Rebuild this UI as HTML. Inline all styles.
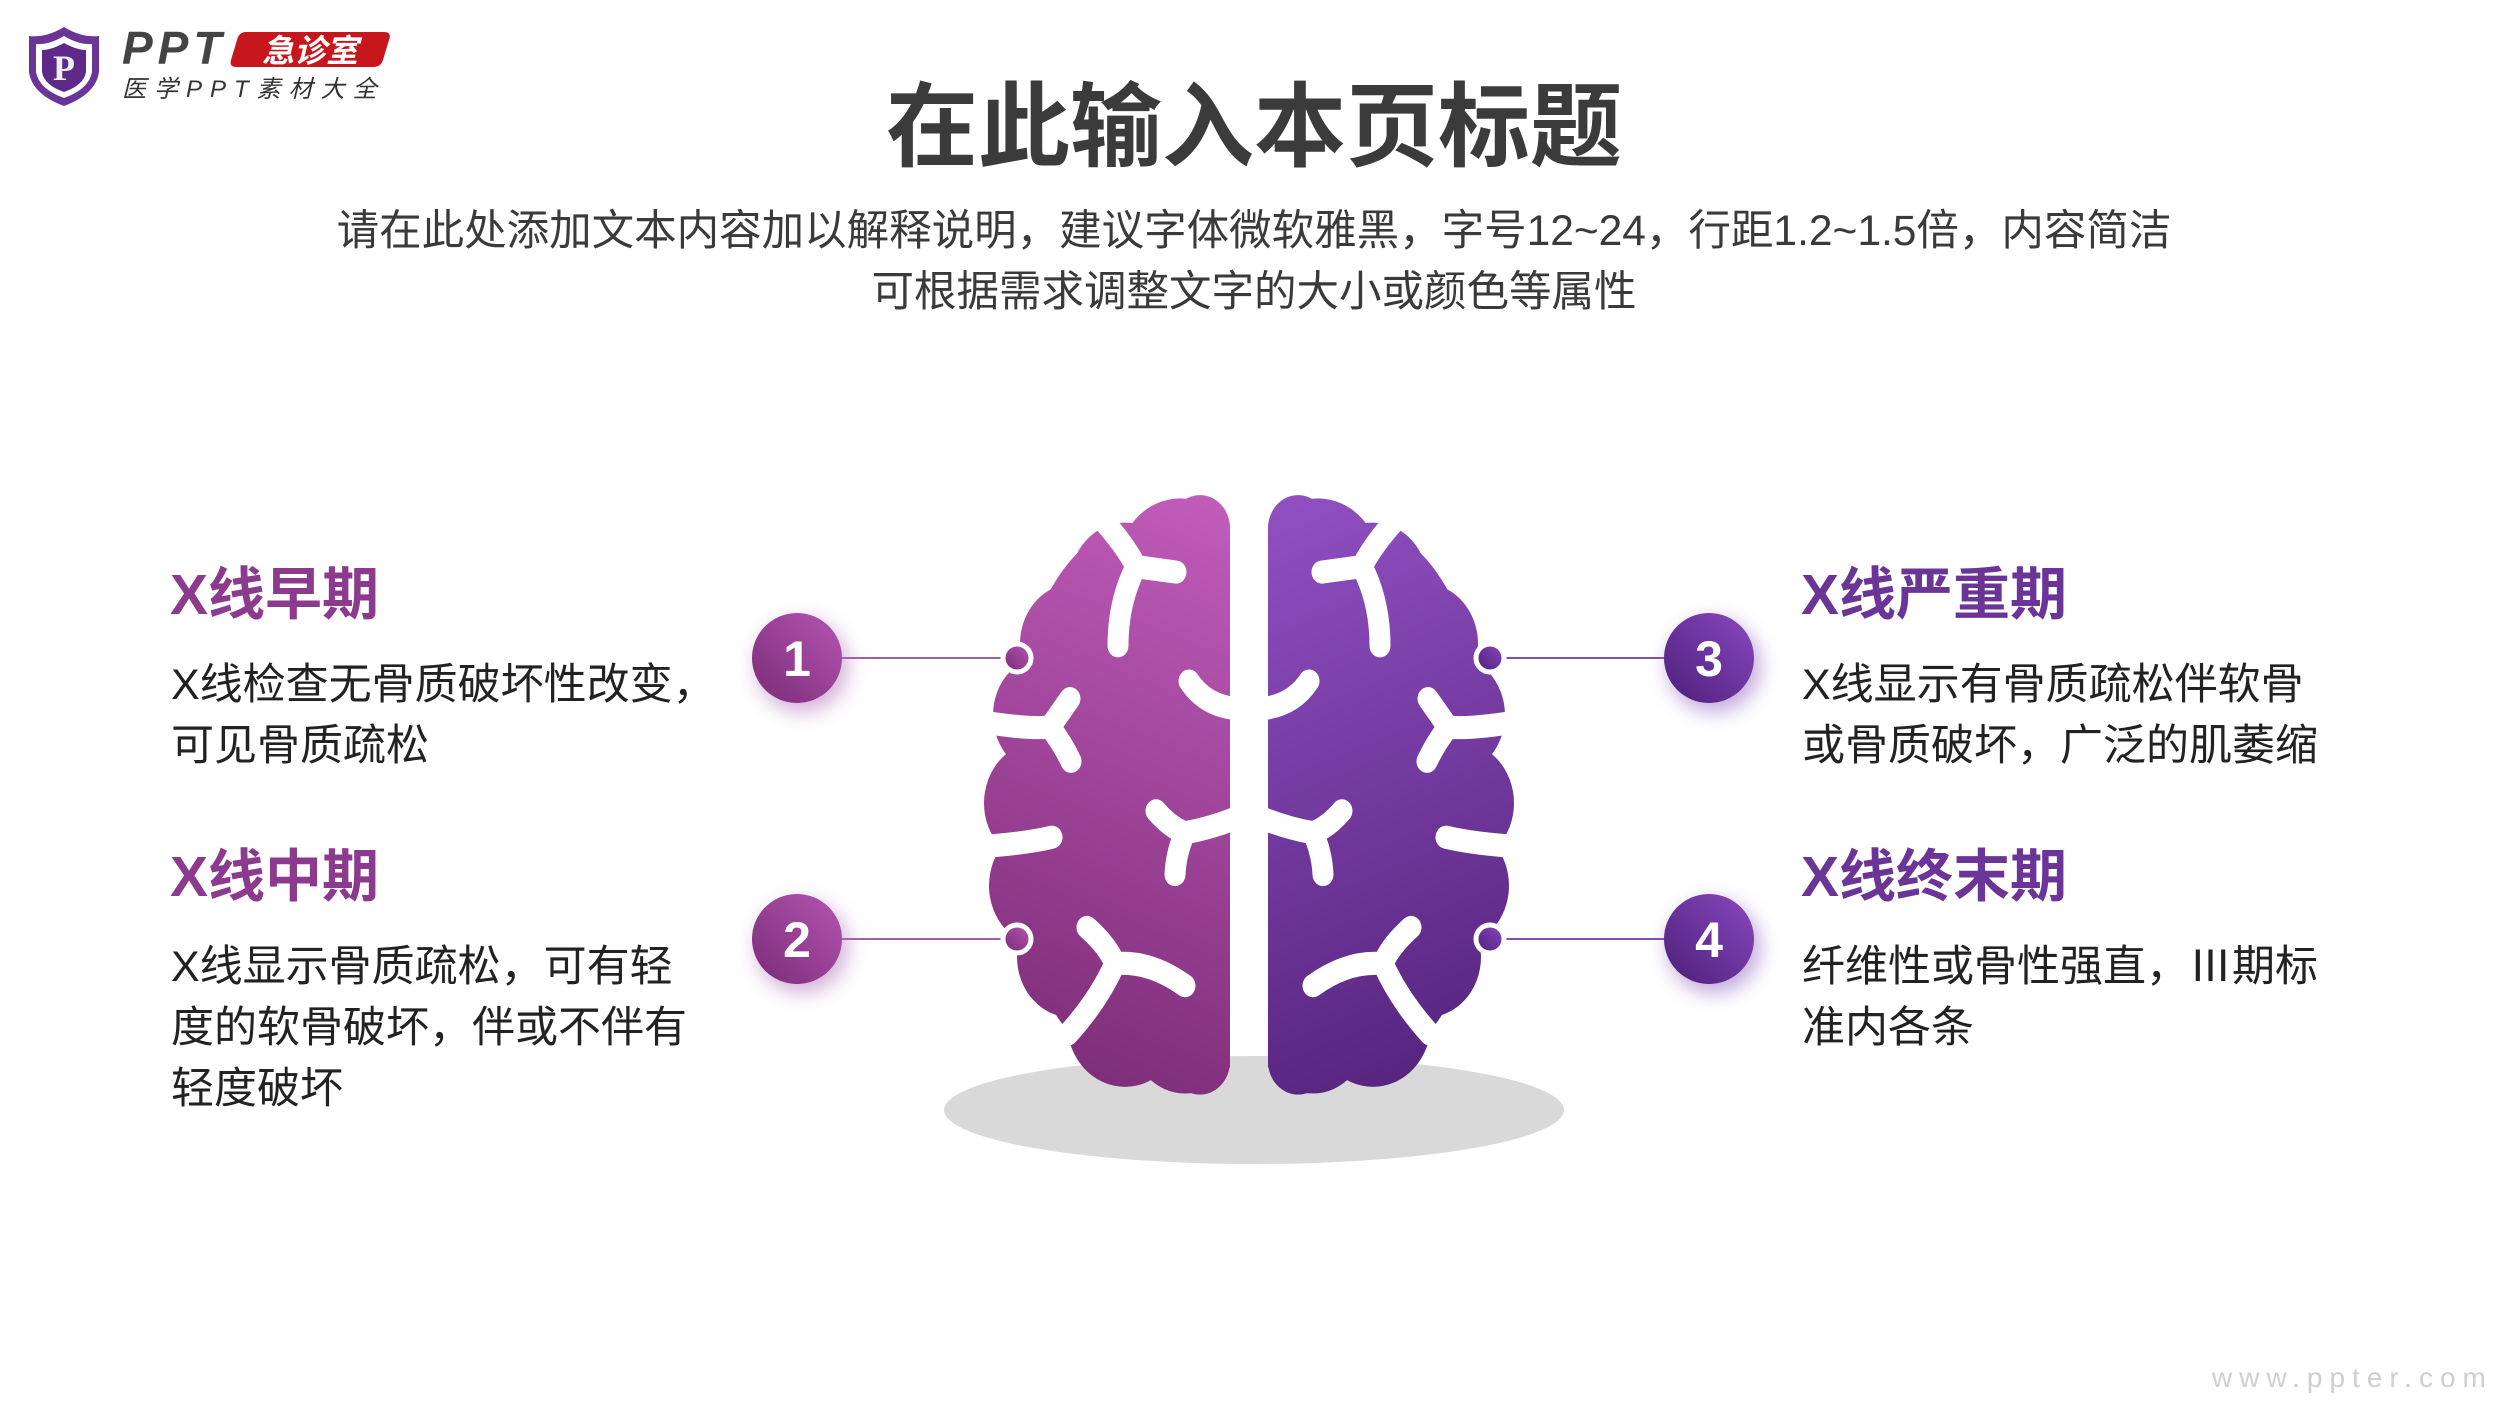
<!DOCTYPE html>
<html><head><meta charset="utf-8">
<style>
*{margin:0;padding:0;box-sizing:border-box}
body{width:2500px;height:1406px;background:#fff;position:relative;overflow:hidden;font-family:"Liberation Sans","Noto Sans CJK SC",sans-serif}
.a{position:absolute;white-space:nowrap}
.title{left:0;width:2508px;text-align:center;top:70px;font-size:92px;font-weight:bold;color:#3b3b3b;line-height:116px}
.sub{left:0;width:2508px;text-align:center;font-size:42.5px;color:#3a3a3a;line-height:60px}
.h{font-size:57px;font-weight:bold;line-height:70px}
.hl{color:#8c3a8e}
.hr{color:#6b3598}
.b{font-size:43px;color:#222;line-height:61px}
</style></head><body>

<svg class="a" style="left:0;top:0" width="420" height="130">
<path d="M64 27 Q82 38 99 36 L99 72 Q96 94 64 106 Q32 94 29 72 L29 36 Q46 38 64 27Z" fill="#6a3596"/>
<path d="M64 36 Q79 45 92 44 L92 72 Q89 89 64 98 Q39 89 36 72 L36 44 Q49 45 64 36Z" fill="#fff"/>
<path d="M64 43 Q77 50 86 50 L86 72 Q84 85 64 92 Q44 85 42 72 L42 50 Q51 50 64 43Z" fill="#5e2a8a"/>
<text x="64" y="80" text-anchor="middle" font-family="Liberation Serif,serif" font-size="36" font-weight="bold" fill="#eee">P</text>
<text x="122" y="64" font-family="Liberation Sans,sans-serif" font-size="46" font-weight="bold" font-style="italic" fill="#444" letter-spacing="5">PPT</text>
<path d="M246 32 L384 32 Q392 32 389 40 L383 60 Q381 67 373 67 L236 67 Q229 67 231 60 L237 40 Q239 32 246 32Z" fill="#c8161d"/>
<text x="310" y="62" text-anchor="middle" font-family="Noto Sans CJK SC,sans-serif" font-size="32" font-weight="bold" font-style="italic" fill="#fff">急诊室</text>
<text x="122" y="97" font-family="Liberation Sans,Noto Sans CJK SC,sans-serif" font-size="24" font-style="italic" fill="#333" letter-spacing="8">医学PPT素材大全</text>
</svg>

<div class="a title">在此输入本页标题</div>
<div class="a sub" style="top:202px">请在此处添加文本内容加以解释说明，建议字体微软雅黑，字号12~24，行距1.2~1.5倍，内容简洁</div>
<div class="a sub" style="top:263px">可根据需求调整文字的大小或颜色等属性</div>

<svg class="a" style="left:0;top:0" width="2500" height="1406">
<defs>
<linearGradient id="gl" gradientUnits="userSpaceOnUse" x1="1230" y1="500" x2="1030" y2="1040">
<stop offset="0" stop-color="#c15cba"/><stop offset="1" stop-color="#7a2b76"/></linearGradient>
<linearGradient id="gr" gradientUnits="userSpaceOnUse" x1="1230" y1="500" x2="1030" y2="1040">
<stop offset="0" stop-color="#9150c2"/><stop offset="1" stop-color="#53227a"/></linearGradient>
<linearGradient id="cl" x1="1" y1="0" x2="0" y2="1"><stop offset="0" stop-color="#b456b0"/><stop offset="1" stop-color="#7a2b78"/></linearGradient>
<linearGradient id="cr" x1="1" y1="0" x2="0" y2="1"><stop offset="0" stop-color="#8a48c0"/><stop offset="1" stop-color="#4c1f78"/></linearGradient>
<filter id="glow" x="-60%" y="-60%" width="220%" height="220%"><feGaussianBlur stdDeviation="10"/></filter>
<clipPath id="half"><rect x="900" y="480" width="330" height="580"/></clipPath>
<g id="brain">
 <g clip-path="url(#half)">
  <rect x="1170" y="495" width="60" height="545" rx="30"/>
  <ellipse cx="1130" cy="770" rx="125" ry="245"/>
  <circle cx="1180" cy="560" r="62"/>
  <circle cx="1125" cy="575" r="55"/>
  <circle cx="1075" cy="630" r="55"/>
  <circle cx="1048" cy="695" r="55"/>
  <circle cx="1040" cy="775" r="56"/>
  <circle cx="1045" cy="850" r="56"/>
  <circle cx="1072" cy="915" r="55"/>
  <circle cx="1125" cy="975" r="58"/>
  <circle cx="1185" cy="985" r="54"/>
 </g>
</g>
<g id="sulci" fill="none" stroke="#fff" stroke-width="21" stroke-linecap="round" stroke-linejoin="round">
 <path d="M1100 515 Q1125 540 1136 560 L1176 565"/>
 <path d="M1136 560 Q1118 592 1118 632"/>
 <path d="M1189 664 Q1205 686 1235 689"/>
 <path d="M975 700 Q1025 708 1050 706 L1070 680 M1050 706 Q1062 720 1071 737"/>
 <path d="M975 815 Q1025 812 1052 806"/>
 <path d="M1156 782 Q1170 797 1185 802 Q1210 798 1235 789 M1185 802 Q1176 820 1175 840"/>
 <path d="M1087 888 Q1108 905 1115 921 Q1150 918 1185 941 M1115 921 Q1098 955 1068 985"/>
</g>
</defs>

<ellipse cx="1254" cy="1110" rx="310" ry="54" fill="#d9d9d9"/>

<g transform="translate(0,494) scale(1,1.1) translate(0,-494)">
<use href="#brain" fill="url(#gl)"/>
<use href="#sulci"/>
<g transform="translate(2498,0) scale(-1,1)">
 <use href="#brain" fill="url(#gr)"/>
 <use href="#sulci"/>
</g>
</g>

<g stroke="#a060a8" stroke-width="2">
 <line x1="842" y1="658" x2="1004" y2="658"/>
 <line x1="842" y1="939" x2="1004" y2="939"/>
</g>
<g stroke="#8050b0" stroke-width="2">
 <line x1="1500" y1="658" x2="1664" y2="658"/>
 <line x1="1500" y1="939" x2="1664" y2="939"/>
</g>
<g stroke="#fff" stroke-width="5">
 <circle cx="1017" cy="658" r="14" fill="url(#cl)"/>
 <circle cx="1017" cy="939" r="14" fill="url(#cl)"/>
 <circle cx="1490" cy="658" r="14" fill="url(#cr)"/>
 <circle cx="1490" cy="939" r="14" fill="url(#cr)"/>
</g>

<g>
 <circle cx="802" cy="666" r="46" fill="#b070b8" opacity=".55" filter="url(#glow)"/>
 <circle cx="802" cy="947" r="46" fill="#b070b8" opacity=".55" filter="url(#glow)"/>
 <circle cx="1714" cy="666" r="46" fill="#9060c0" opacity=".55" filter="url(#glow)"/>
 <circle cx="1714" cy="947" r="46" fill="#9060c0" opacity=".55" filter="url(#glow)"/>
 <circle cx="797" cy="658" r="45" fill="url(#cl)"/>
 <circle cx="797" cy="939" r="45" fill="url(#cl)"/>
 <circle cx="1709" cy="658" r="45" fill="url(#cr)"/>
 <circle cx="1709" cy="939" r="45" fill="url(#cr)"/>
</g>
<g font-family="Liberation Sans,sans-serif" font-size="50" font-weight="bold" fill="#fff" text-anchor="middle">
 <text x="797" y="676">1</text>
 <text x="797" y="957">2</text>
 <text x="1709" y="676">3</text>
 <text x="1709" y="957">4</text>
</g>
</svg>

<div class="a h hl" style="left:170px;top:560px">X线早期</div>
<div class="a b" style="left:171px;top:655px">X线检查无骨质破坏性改变，<br>可见骨质疏松</div>
<div class="a h hl" style="left:170px;top:842px">X线中期</div>
<div class="a b" style="left:171px;top:937px">X线显示骨质疏松，可有轻<br>度的软骨破坏，伴或不伴有<br>轻度破坏</div>

<div class="a h hr" style="left:1801px;top:560px">X线严重期</div>
<div class="a b" style="left:1802px;top:655px">X线显示有骨质疏松伴软骨<br>或骨质破坏，广泛的肌萎缩</div>
<div class="a h hr" style="left:1801px;top:842px">X线终末期</div>
<div class="a b" style="left:1802px;top:937px">纤维性或骨性强直，Ⅲ期标<br>准内各条</div>

<div class="a" style="left:2212px;top:1362px;font-size:28px;color:#cfcfcf;letter-spacing:7px">www.ppter.com</div>
</body></html>
